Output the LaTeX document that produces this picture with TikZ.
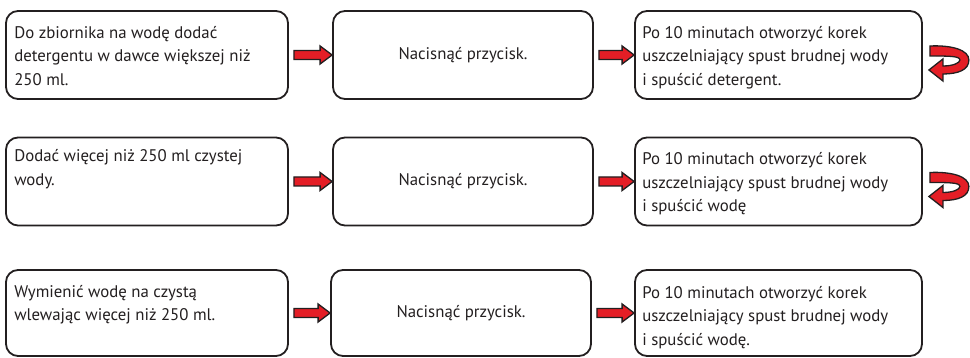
\documentclass[tikz,border=0pt]{standalone}
\usepackage{fontspec}
\setmainfont{PT Sans}
\usepackage{xcolor}
\definecolor{boxline}{RGB}{35,31,32}
\definecolor{arrred}{RGB}{228,30,38}
\usepackage{tikz}
\usetikzlibrary{positioning,calc}

\tikzset{
  stepbox/.style={draw=boxline, line width=1.8pt, rounded corners=12pt, fill=white,
    minimum height=88pt, inner sep=0pt, text=boxline,
    font=\fontsize{16.8}{23.5}\selectfont},
  boxtext/.style={inner sep=0pt, align=left, text=boxline,
    font=\fontsize{16.8}{23.5}\selectfont},
  blockarr/.style={draw=boxline, line width=1.3pt, fill=arrred, line join=miter}
}

% block arrow between two boxes of one row
\newcommand{\flowarrow}[2]{%
  \draw[blockarr] ($(#1.east)+(5,4.5)$) -- ($(#2.west)+(-12,4.5)$) -- ++(0,4.5)
    -- (#2.west) -- ++(-12,-9) -- ++(0,4.5) -- ($(#1.east)+(5,-4.5)$) -- cycle;}
% u-turn arrow on the right side of a box
\newcommand{\backarrow}[1]{%
  \draw[blockarr, shift={(#1.east)}] (7,9) .. controls (29,10) and (46,5) .. (46,-5)
    .. controls (46,-15) and (35,-19) .. (20,-19) -- (20,-26) -- (6,-15) -- (20,-4)
    -- (20,-11) .. controls (30,-11) and (37,-8) .. (37,-5)
    .. controls (37,-1) and (26,-1) .. (7,-1) -- cycle;}

\begin{document}
\begin{tikzpicture}[x=1pt,y=1pt]
  \useasboundingbox (0,0) rectangle (970,358);

  % row 1
  \node[stepbox, minimum width=282pt] (b11) at (147,303) {};
  \node[stepbox, minimum width=260pt] (b12) at (463,303) {Nacisnąć przycisk.};
  \node[stepbox, minimum width=287pt] (b13) at (778.5,303) {};
  \node[boxtext, below right=16pt and 9pt of b11.north west] (t11)
    {Do zbiornika na wodę dodać\\detergentu w dawce większej niż\\250 ml.};
  \node[boxtext, below right=16pt and 8pt of b13.north west] (t13)
    {Po 10 minutach otworzyć korek\\uszczelniający spust brudnej wody\\i spuścić detergent.};
  \flowarrow{b11}{b12}
  \flowarrow{b12}{b13}
  \backarrow{b13}

  % row 2
  \node[stepbox, minimum width=282pt] (b21) at (147,176.5) {};
  \node[stepbox, minimum width=260pt] (b22) at (463,176.5) {Nacisnąć przycisk.};
  \node[stepbox, minimum width=287pt] (b23) at (778.5,176.5) {};
  \node[boxtext, below right=13pt and 9pt of b21.north west] (t21)
    {Dodać więcej niż 250 ml czystej\\wody.};
  \node[boxtext, below right=16pt and 8pt of b23.north west] (t23)
    {Po 10 minutach otworzyć korek\\uszczelniający spust brudnej wody\\i spuścić wodę};
  \flowarrow{b21}{b22}
  \flowarrow{b22}{b23}
  \backarrow{b23}

  % row 3
  \node[stepbox, minimum width=282pt, minimum height=86pt] (b31) at (147,45) {};
  \node[stepbox, minimum width=260pt, minimum height=86pt] (b32) at (461,45) {Nacisnąć przycisk.};
  \node[stepbox, minimum width=287pt, minimum height=86pt] (b33) at (778.5,45) {};
  \node[boxtext, below right=16pt and 9pt of b31.north west] (t31)
    {Wymienić wodę na czystą\\wlewając więcej niż 250 ml.};
  \node[boxtext, below right=17pt and 8pt of b33.north west] (t33)
    {Po 10 minutach otworzyć korek\\uszczelniający spust brudnej wody\\i spuścić wodę.};
  \flowarrow{b31}{b32}
  \flowarrow{b32}{b33}
\end{tikzpicture}
\end{document}
